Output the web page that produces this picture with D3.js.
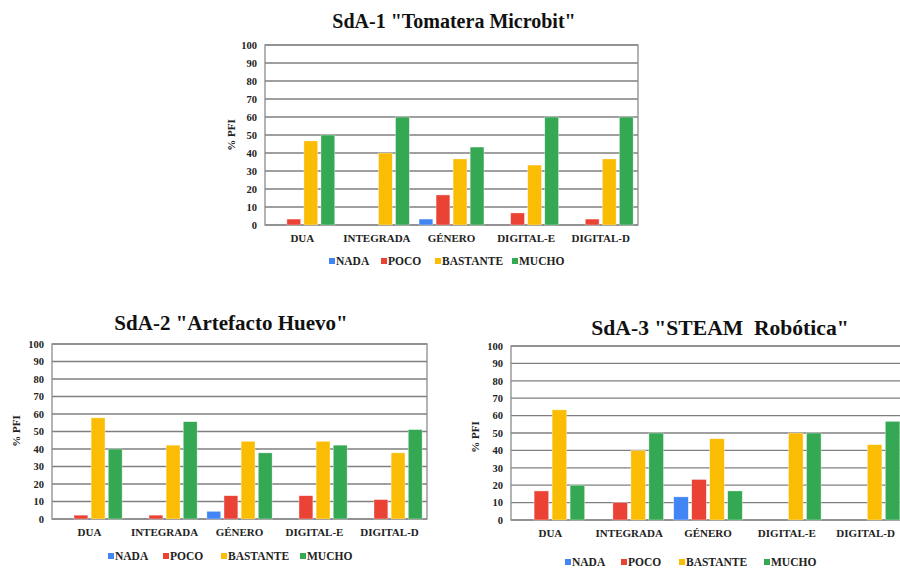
<!DOCTYPE html>
<html>
<head>
<meta charset="utf-8">
<script src="https://cdn.jsdelivr.net/npm/d3@7"></script>
<style>
  body { margin: 0; background: #fff; }
  svg { display: block; }
  svg text { font-family: 'Liberation Serif'; font-weight: bold; }
</style>
</head>
<body>
<svg></svg>
<script>
const size = {w: 900, h: 569};

// data
const categories = ['DUA', 'INTEGRADA', 'GÉNERO', 'DIGITAL-E', 'DIGITAL-D'];
const seriesNames = ['NADA', 'POCO', 'BASTANTE', 'MUCHO'];
const seriesColors = ['#4285f4', '#ea4335', '#fbbc04', '#34a853'];
const yTicks = [0, 10, 20, 30, 40, 50, 60, 70, 80, 90, 100];

// one row per series (NADA, POCO, BASTANTE, MUCHO), one value per category
const sda1Values = [
    [0, 0, 3.3, 0, 0],
    [3.3, 0, 16.7, 6.7, 3.3],
    [46.7, 40, 36.7, 33.3, 36.7],
    [50, 60, 43.3, 60, 60]
];
const sda2Values = [
    [0, 0, 4.4, 0, 0],
    [2.2, 2.2, 13.3, 13.3, 11.1],
    [57.8, 42.2, 44.4, 44.4, 37.8],
    [40, 55.6, 37.8, 42.2, 51.1]
];
const sda3Values = [
    [0, 0, 13.3, 0, 0],
    [16.7, 10, 23.3, 0, 0],
    [63.3, 40, 46.7, 50, 43.3],
    [20, 50, 16.7, 50, 56.7]
];

const svg = d3.select('svg')
    .attr('width', size.w)
    .attr('height', size.h);

// layout of each of the three panels
const charts = [
    {title: 'SdA-1 "Tomatera Microbit"', values: sda1Values, titleSize: 20,
     x0: 265, x1: 638, y0: 45, y1: 225, titleX: 454, titleY: 28,
     labelX: 231, labelY: 135, legendY: 265, legendX: [329, 381, 435, 512]},
    {title: 'SdA-2 "Artefacto Huevo"', values: sda2Values, titleSize: 21,
     x0: 52, x1: 427, y0: 344, y1: 519, titleX: 231, titleY: 330,
     labelX: 16, labelY: 431, legendY: 560, legendX: [108, 163, 221, 300]},
    {title: 'SdA-3 "STEAM  Robótica"', values: sda3Values, titleSize: 21.6,
     x0: 511, x1: 905, y0: 346, y1: 520, titleX: 720, titleY: 335,
     labelX: 475, labelY: 437, legendY: 566, legendX: [565, 621, 679, 764]}
];

charts.forEach(drawChart);

function drawChart(c) {
    const g = svg.append('g');

    const x = d3.scaleBand()
        .domain(categories)
        .range([c.x0, c.x1])
        .paddingInner(0.13)
        .paddingOuter(0.065);
    const xInner = d3.scaleBand()
        .domain(seriesNames)
        .range([0, x.bandwidth()])
        .paddingInner(0.19);
    const y = d3.scaleLinear()
        .domain([0, 100])
        .range([c.y1, c.y0]);

    // gridlines
    g.append('g')
        .selectAll('line')
        .data(yTicks)
        .join('line')
        .attr('x1', c.x0).attr('x2', c.x1)
        .attr('y1', d => y(d)).attr('y2', d => y(d))
        .attr('stroke', '#7f7f7f')
        .attr('stroke-width', 1.3);

    // plot border
    g.append('rect')
        .attr('x', c.x0).attr('y', c.y0)
        .attr('width', c.x1 - c.x0).attr('height', c.y1 - c.y0)
        .attr('fill', 'none')
        .attr('stroke', '#8c8c8c')
        .attr('stroke-width', 1.3);

    // bars
    const groups = g.append('g')
        .selectAll('g')
        .data(categories)
        .join('g')
        .attr('transform', d => `translate(${x(d)},0)`);

    groups.selectAll('rect')
        .data((cat, i) => seriesNames.map((s, k) => ({s, k, v: c.values[k][i]})))
        .join('rect')
        .filter(d => d.v > 0)
        .attr('x', d => xInner(d.s))
        .attr('width', xInner.bandwidth())
        .attr('y', d => y(d.v))
        .attr('height', d => y(0) - y(d.v))
        .attr('fill', d => seriesColors[d.k])
        .attr('stroke', '#ffffff')
        .attr('stroke-opacity', 0.6)
        .attr('stroke-width', 0.6);

    // y axis labels
    const yAxis = d3.axisLeft(y).tickValues(yTicks).tickSize(0).tickPadding(8);
    g.append('g')
        .attr('transform', `translate(${c.x0},0)`)
        .call(yAxis)
        .attr('font-family', null)
        .call(a => a.select('.domain').remove())
        .selectAll('text')
        .attr('font-size', 10.5)
        .attr('fill', '#222');

    // x axis labels
    const xAxis = d3.axisBottom(x).tickSize(0).tickPadding(9);
    g.append('g')
        .attr('transform', `translate(0,${c.y1})`)
        .call(xAxis)
        .attr('font-family', null)
        .call(a => a.select('.domain').remove())
        .selectAll('text')
        .attr('font-size', 11)
        .attr('fill', '#222');

    // title
    g.append('text')
        .attr('x', c.titleX).attr('y', c.titleY)
        .attr('text-anchor', 'middle')
        .style('white-space', 'pre')
        .attr('font-size', c.titleSize)
        .attr('fill', '#111')
        .text(c.title);

    // y axis title
    g.append('text')
        .attr('transform', `translate(${c.labelX + 4},${c.labelY}) rotate(-90)`)
        .attr('text-anchor', 'middle')
        .attr('font-size', 11)
        .attr('fill', '#222')
        .text('% PFI');

    // legend
    const legend = g.append('g')
        .selectAll('g')
        .data(seriesNames)
        .join('g')
        .attr('transform', (d, i) => `translate(${c.legendX[i]},${c.legendY})`);
    legend.append('rect')
        .attr('x', 0).attr('y', -7)
        .attr('width', 6).attr('height', 6)
        .attr('fill', (d, i) => seriesColors[i]);
    legend.append('text')
        .attr('x', 7).attr('y', 0)
        .attr('font-size', 11.5)
        .attr('fill', '#222')
        .text(d => d);
}
</script>
</body>
</html>
